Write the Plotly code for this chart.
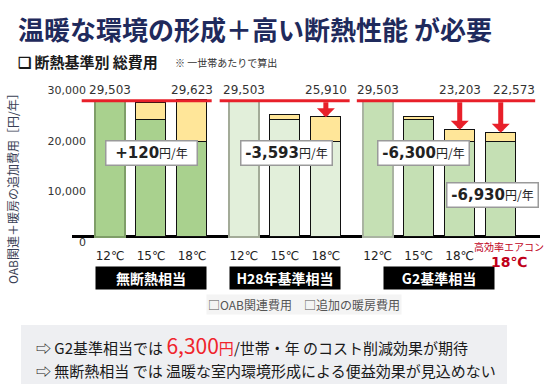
import plotly.graph_objects as go

# ---------------- data ----------------
groups = ["無断熱相当", "H28年基準相当", "G2基準相当"]
group_sizes = [3, 3, 4]
temp_labels = ["12℃", "15℃", "18℃", "12℃", "15℃", "18℃", "12℃", "15℃", "18℃", "18℃"]
he_label_top = "高効率エアコン"
oab_cost = [29503, 25316, 20479, 29503, 25316, 20479, 29503, 25316, 20479, 20479]
heat_cost = [0, 3623, 9144, 0, 1085, 5431, 0, 600, 2724, 2094]
show_total = [True, False, True, True, False, True, True, False, True, True]
arrow_bars = [5, 8, 9]
baseline_value = 29503
saving_bars = [2, 5, 8, 9]
y_ticks = [0, 10000, 20000, 30000]
y_tick_text = ["0", "10,000", "20,000", "30,000"]
legend_names = ["OAB関連費用", "追加の暖房費用"]

# ---------------- layout helpers ----------------
W, H = 552, 390
ML, MR, MT, MB = 72, 12, 80, 146
PW, PH = W - ML - MR, H - MT - MB
def px_x(p):
    return (p - ML) / PW
def px_y(p):
    return (H - MB - p) / PH

GAP = 0.265
pos = []
gi_of = []
k = 0
for gi, n in enumerate(group_sizes):
    for j in range(n):
        pos.append(k + gi * GAP)
        gi_of.append(gi)
        k += 1

totals = [a + b for a, b in zip(oab_cost, heat_cost)]

fill_by_group = ["#a9d18e", "#e2efda", "#c5e0b4"]
first_line = ["#7f9e68", "#a3ab98", "#aab4a2"]
fills = [fill_by_group[g] for g in gi_of]
line_cols = []
line_w = []
for gi, n in enumerate(group_sizes):
    for j in range(n):
        if j == 0:
            line_cols.append(first_line[gi]); line_w.append(2)
        else:
            line_cols.append("#111111"); line_w.append(1.2)

BAR_W = 0.74
NUMF = "DejaVu Sans, Noto Sans CJK JP"
JPF = "Noto Sans CJK JP"

fig = go.Figure()
fig.add_trace(go.Bar(x=pos, y=oab_cost, width=BAR_W, name=legend_names[0],
                     marker=dict(color=fills, line=dict(color=line_cols, width=line_w)),
                     hoverinfo="skip", showlegend=False))
fig.add_trace(go.Bar(x=pos, y=heat_cost, width=BAR_W, name=legend_names[1],
                     marker=dict(color="#ffe699", line=dict(color=line_cols, width=line_w)),
                     hoverinfo="skip", showlegend=False))
fig.add_trace(go.Scatter(x=[pos[0]], y=[0], yaxis="y2", mode="markers",
                         marker=dict(opacity=0), hoverinfo="skip", showlegend=False))

ppu = (236.7 - 100.7) / baseline_value
y_top = (236.7 - MT) / ppu
y_bot = -((H - MB) - 236.7) / ppu
lpu = (242.5 - 89.8) / 30000
y2_top = (242.5 - MT) / lpu
y2_bot = -((H - MB) - 242.5) / lpu

x_left = (ML - 110) / 41
x_right = (W - MR - 110) / 41

tickvals = pos[:9]
ticktext = temp_labels[:9]

fig.update_layout(
    width=W, height=H, margin=dict(l=ML, r=MR, t=MT, b=MB, autoexpand=False),
    paper_bgcolor="white", plot_bgcolor="white", barmode="stack", bargap=0,
    xaxis=dict(range=[x_left, x_right], tickvals=tickvals, ticktext=ticktext,
               showgrid=False, zeroline=False, showline=False, ticks="", automargin=False,
               ticklabelstandoff=3,
               tickfont=dict(family=NUMF, size=12, color="#222")),
    yaxis=dict(range=[y_bot, y_top], showgrid=False, showticklabels=False, automargin=False,
               zeroline=True, zerolinecolor="#000", zerolinewidth=3, ticks=""),
    yaxis2=dict(range=[y2_bot, y2_top], overlaying="y", anchor="free", position=px_x(86),
                side="left", tickvals=y_ticks, ticktext=y_tick_text, showgrid=False,
                zeroline=False, showline=False, ticks="", automargin=False, autoshift=False,
                tickfont=dict(family=NUMF, size=11, color="#333")),
    font=dict(family=JPF),
)

shapes = []
annos = []
def A(**kw):
    kw.setdefault("xanchor", "center")
    kw.setdefault("yanchor", "middle")
    kw.setdefault("showarrow", False)
    annos.append(kw)

ext = [(0.69, 0.48), (0.59, 0.58), (0.51, 0.84)]
idx = 0
for gi, n in enumerate(group_sizes):
    first, last = pos[idx], pos[idx + n - 1]
    shapes.append(dict(type="line", xref="x", yref="y", x0=first - ext[gi][0], x1=last + ext[gi][1],
                       y0=baseline_value, y1=baseline_value, line=dict(color="#e8202a", width=3),
                       layer="above"))
    A(x=sum(pos[idx:idx + n]) / n, y=px_y(278), xref="x", yref="paper",
      text="<b>" + groups[gi] + "</b>", bgcolor="#000",
      width=108, height=20, font=dict(family=JPF, size=14, color="white"))
    idx += n

for i in range(len(pos)):
    if show_total[i]:
        A(x=pos[i], y=baseline_value, xref="x", yref="y", yshift=11,
          xshift=(13 if i == 9 else 0),
          text=f"{totals[i]:,}", font=dict(family=NUMF, size=12, color="#333"))
for i in arrow_bars:
    annos.append(dict(x=pos[i], y=totals[i], ax=pos[i], ay=baseline_value,
                      xref="x", yref="y", axref="x", ayref="y", text="",
                      showarrow=True, arrowhead=1, arrowwidth=5, arrowsize=0.6,
                      arrowcolor="#e8202a", standoff=0, startstandoff=0))

box_place = [(-1.0, 18157), (-0.96, 18157), (-0.88, 18157), (-0.2, 9111)]
for (bi, (dx, yv)) in zip(saving_bars, box_place):
    d = totals[bi] - baseline_value
    s = f"+{d:,}" if d > 0 else f"-{abs(d):,}"
    A(x=pos[bi] + dx, y=yv, xref="x", yref="y",
      text=f"<b>{s}</b><span style='font-size:12px;font-family:{JPF}'>円/年</span>",
      bgcolor="white", bordercolor="#9a9a9a", borderwidth=1.5,
      width=88, height=21, font=dict(family=NUMF, size=15, color="#222"))

A(x=pos[9], y=px_y(246), xref="x", yref="paper", xshift=8,
  text=he_label_top, font=dict(family=JPF, size=10, color="#c0001a"))
A(x=pos[9], y=px_y(262), xref="x", yref="paper", xshift=8,
  text="<b>" + temp_labels[9] + "</b>", font=dict(family=NUMF, size=14, color="#c0001a"))

A(x=px_x(12), y=px_y(186), xref="paper", yref="paper",
  textangle=-90, text="OAB関連＋暖房の追加費用［円/年］",
  font=dict(family=JPF, size=12, color="#3a3f55"))

A(x=px_x(304), y=px_y(304), xref="paper", yref="paper",
  text="□" + legend_names[0] + "　□" + legend_names[1], bgcolor="#f4f4f4",
  font=dict(family=JPF, size=12, color="#555"))

A(x=px_x(16), y=px_y(29), xref="paper", yref="paper", xanchor="left",
  text="<b>温暖な環境の形成＋高い断熱性能 が必要</b>",
  font=dict(family=JPF, size=26, color="#1f2a5c"))
A(x=px_x(16), y=px_y(62), xref="paper", yref="paper", xanchor="left",
  text="<b>❑ 断熱基準別 総費用</b>", font=dict(family=JPF, size=15, color="#1a1a1a"))
A(x=px_x(173), y=px_y(63), xref="paper", yref="paper", xanchor="left",
  text="※ 一世帯あたりで算出", font=dict(family=JPF, size=10, color="#333"))

shapes.append(dict(type="rect", xref="paper", yref="paper", x0=px_x(21), x1=px_x(507),
                   y0=px_y(384), y1=px_y(325), fillcolor="#eeeff2", line=dict(width=0), layer="below"))
A(x=px_x(34), y=px_y(345), xref="paper", yref="paper", xanchor="left",
  text="⇨ G2基準相当では <span style='font-size:21px;color:#f0242c'>6,300</span>"
       "<span style='color:#f0242c'>円</span>/世帯・年 のコスト削減効果が期待",
  font=dict(family=JPF, size=15, color="#1a1a1a"))
A(x=px_x(34), y=px_y(370), xref="paper", yref="paper", xanchor="left",
  text="⇨ 無断熱相当 では 温暖な室内環境形成による便益効果が見込めない",
  font=dict(family=JPF, size=15, color="#1a1a1a"))

fig.update_layout(shapes=shapes, annotations=annos)
fig.write_html("out.html", config={"displayModeBar": False},
               post_script="document.body.style.margin='0';document.body.style.padding='0';")
